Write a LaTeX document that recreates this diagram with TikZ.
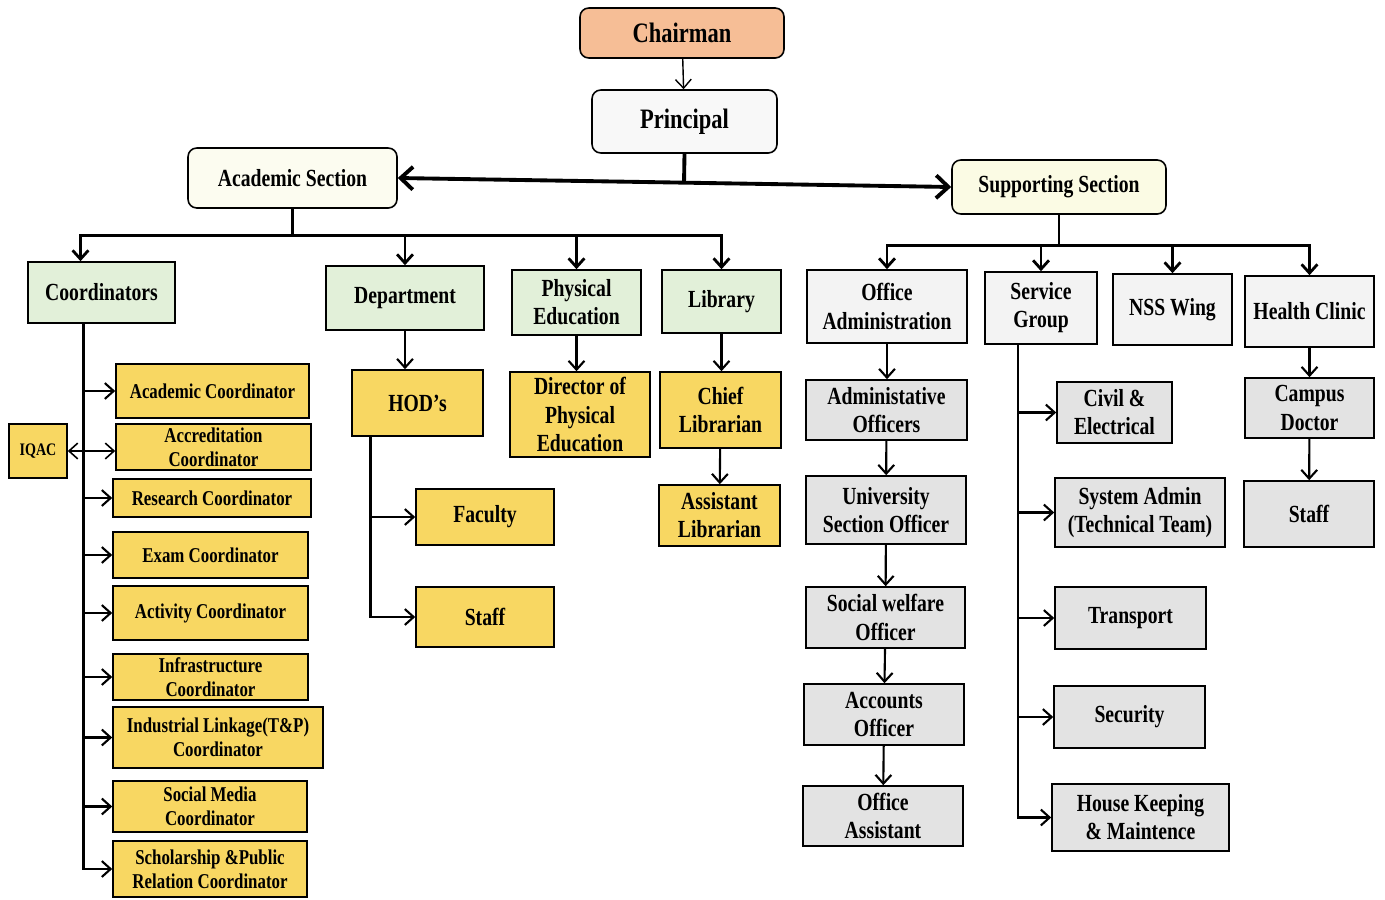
\documentclass[tikz,border=0pt]{standalone}
\usepackage{fontspec}
\setmainfont{Liberation Serif}[FakeStretch=0.8]
\usepackage{xcolor}
\usepackage{tikz}
\usetikzlibrary{calc,arrows.meta}
\definecolor{chaircol}{HTML}{F6BE96}
\definecolor{princol}{HTML}{F8F8F8}
\definecolor{acadcol}{HTML}{FCFCF0}
\definecolor{suppcol}{HTML}{FBFBE4}
\definecolor{headcol}{HTML}{E2F0D9}
\definecolor{yelcol}{HTML}{F8D762}
\definecolor{ltgray}{HTML}{F3F3F3}
\definecolor{dkgray}{HTML}{E3E3E3}
\newcommand{\fbig}{\bfseries\fontsize{16}{18}\selectfont}
\newcommand{\fmid}{\bfseries\fontsize{14}{16}\selectfont}
\newcommand{\fsml}{\bfseries\fontsize{12}{13.5}\selectfont}
\tikzset{sz/.style 2 args={minimum width=#1*0.02cm,minimum height=#2*0.02cm}}

\begin{document}
\begin{tikzpicture}[x=0.02cm,y=-0.02cm,line width=1.2pt,
    >={Straight Barb[length=5pt,width=9pt]}]
    \useasboundingbox (0,0) rectangle (1385,899);
    \tikzstyle{box}=[draw,line width=0.9pt,inner sep=1pt,align=center,font=\fmid]
    \tikzstyle{rbox}=[box,rounded corners=5pt]
    \tikzstyle{head}=[box,fill=headcol]
    \tikzstyle{ybox}=[box,fill=yelcol,font=\fsml]
    \tikzstyle{sbox}=[box,fill=ltgray]
    \tikzstyle{gbox}=[box,fill=dkgray]

    \node[rbox,fill=chaircol,font=\fbig,sz={204}{50}] (chair) at (682,33) {Chairman};
    \node[rbox,fill=princol,font=\fbig,sz={185}{63}] (prin) at (684.5,121.5) {Principal};
    \node[rbox,fill=acadcol,sz={209}{60}] (acad) at (292.5,178) {Academic Section};
    \node[rbox,fill=suppcol,sz={214}{54}] (supp) at (1059,187) {Supporting Section};

    \node[head,sz={147}{61}] (coord) at (101.5,292.5) {Coordinators};
    \node[head,sz={158}{64}] (dept) at (405,298) {Department};
    \node[head,sz={129}{65}] (phy) at (576.5,302.5) {Physical\\Education};
    \node[head,sz={119}{63}] (lib) at (721.5,301.5) {Library};
    \node[sbox,sz={160}{73}] (offadm) at (887,306.5) {Office\\Administration};
    \node[sbox,sz={112}{72}] (serv) at (1041,308) {Service\\Group};
    \node[sbox,sz={119}{71}] (nss) at (1172.5,309.5) {NSS Wing};
    \node[sbox,sz={129}{71}] (health) at (1309.5,311.5) {Health Clinic};

    \node[ybox,sz={193}{54}] (c1) at (212.5,391) {Academic Coordinator};
    \node[ybox,sz={195}{46}] (c2) at (213.5,447) {Accreditation\\Coordinator};
    \node[ybox,sz={198}{38}] (c3) at (212,498) {Research Coordinator};
    \node[ybox,sz={195}{46}] (c4) at (210.5,555) {Exam Coordinator};
    \node[ybox,sz={195}{54}] (c5) at (210.5,613) {Activity Coordinator};
    \node[ybox,sz={195}{46}] (c6) at (210.5,677) {Infrastructure\\Coordinator};
    \node[ybox,sz={210}{61}] (c7) at (218,737.5) {Industrial Linkage(T\&P)\\Coordinator};
    \node[ybox,sz={194}{51}] (c8) at (210,806.5) {Social Media\\Coordinator};
    \node[ybox,sz={194}{56}] (c9) at (210,869) {Scholarship \&Public\\Relation Coordinator};
    \node[ybox,font=\bfseries\fontsize{10}{12}\selectfont,sz={58}{54}] (iqac) at (38,451) {IQAC};

    \node[ybox,font=\fmid,sz={131}{66}] (hod) at (417.5,403) {HOD's};
    \node[ybox,font=\fmid,sz={138}{56}] (fac) at (485,517) {Faculty};
    \node[ybox,font=\fmid,sz={138}{60}] (hstaff) at (485,617) {Staff};
    \node[ybox,font=\fmid,sz={140}{85}] (dir) at (580,414.5) {Director of\\Physical\\Education};
    \node[ybox,font=\fmid,sz={121}{76}] (chief) at (720.5,410) {Chief\\Librarian};
    \node[ybox,font=\fmid,sz={121}{61}] (asst) at (719.5,515.5) {Assistant\\Librarian};

    \node[gbox,sz={161}{60}] (ao) at (886.5,410) {Administative\\Officers};
    \node[gbox,sz={160}{68}] (uso) at (886,510) {University\\Section Officer};
    \node[gbox,sz={159}{61}] (swo) at (885.5,617.5) {Social welfare\\Officer};
    \node[gbox,sz={160}{61}] (acc) at (884,714.5) {Accounts\\Officer};
    \node[gbox,sz={160}{60}] (oa) at (883,816) {Office\\Assistant};

    \node[gbox,sz={115}{61}] (civ) at (1114.5,412.5) {Civil \&\\Electrical};
    \node[gbox,sz={170}{69}] (sys) at (1140,512.5) {System Admin\\(Technical Team)};
    \node[gbox,sz={151}{62}] (trn) at (1130.5,618) {Transport};
    \node[gbox,sz={151}{62}] (sec) at (1129.5,717) {Security};
    \node[gbox,sz={177}{67}] (hk) at (1140.5,817.5) {House Keeping\\\& Maintence};

    \node[gbox,sz={129}{60}] (cdoc) at (1309.5,408) {Campus\\Doctor};
    \node[gbox,sz={130}{66}] (cstaff) at (1309,514) {Staff};

    \draw[->,line width=0.8pt] (chair) -- (prin);
    \draw[<->,line width=2.2pt,>={Straight Barb[length=7pt,width=13pt]}] (acad.east) -- (supp.west);
    \draw[line width=2.2pt] (prin.south) -- ($(acad.east)!(prin.south)!(supp.west)$);

    \draw[line width=1.6pt] (acad.south) -- ++(0,27) coordinate (abus);
    \draw[->,line width=1.6pt] (abus) -| ($(coord.north)+(-21,0)$);
    \foreach \n in {dept,phy,lib} \draw[->,line width=1.6pt] (abus) -| (\n.north);
    \draw[line width=1.6pt] (supp.south) -- ++(0,31) coordinate (sbus);
    \foreach \n in {offadm,serv,nss,health} \draw[->,line width=1.6pt] (sbus) -| (\n.north);

    \coordinate (ct) at ($(coord.south)+(-18,0)$);
    \draw[->] (ct) |- (c9.west);
    \foreach \n in {c1,c3,c4,c5,c6,c7,c8} \draw[->] (ct |- \n.west) -- (\n.west);
    \draw[<->,line width=0.9pt] (iqac.east) -- (iqac.east -| c2.west);

    \draw[->] (dept.south) -- (dept.south |- hod.north);
    \coordinate (ht) at ($(hod.south)+(-47,0)$);
    \draw[->] (ht) |- (hstaff.west);
    \draw[->] (ht |- fac.west) -- (fac.west);
    \draw[->] (phy.south) -- (phy.south |- dir.north);
    \draw[->] (lib.south) -- (lib.south |- chief.north);
    \draw[->] (chief) -- (asst);

    \draw[->] (offadm.south) -- (offadm.south |- ao.north);
    \draw[->] (ao) -- (uso);
    \draw[->] (uso) -- (swo);
    \draw[->] (swo) -- (acc);
    \draw[->] (acc) -- (oa);

    \coordinate (st) at ($(serv.south)+(-23,0)$);
    \draw[->] (st) |- (hk.west);
    \foreach \n in {civ,sys,trn,sec} \draw[->] (st |- \n.west) -- (\n.west);

    \draw[->] (health) -- (cdoc);
    \draw[->] (cdoc) -- (cstaff);
\end{tikzpicture}
\end{document}
